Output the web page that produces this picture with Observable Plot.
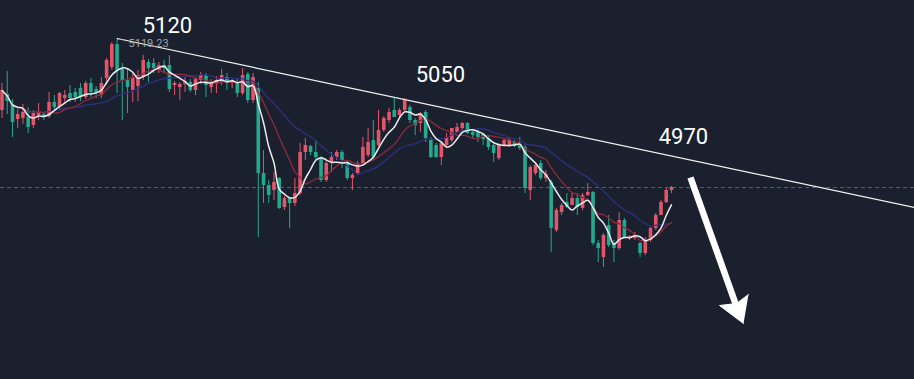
<!DOCTYPE html>
<html>
<head>
<meta charset="utf-8">
<script src="https://cdn.jsdelivr.net/npm/d3@7"></script>
<script src="https://cdn.jsdelivr.net/npm/@observablehq/plot@0.6"></script>
<style>
  html, body { margin: 0; padding: 0; background: #1b202e; overflow: hidden; }
  #chart svg { display: block; }
</style>
</head>
<body>
<div id="chart"></div>
<script>
// Candle values (price); index = candle number
const opens = [5049,5065,5055,5040,5041,5042,5034,5044,5045,5043,
  5057,5052,5061,5066,5067,5071,5062,5076,5070,5064,
  5081,5092,5115,5090,5079,5069,5073,5082,5097,5096,
  5089,5094,5094,5074,5072,5075,5077,5069,5079,5084,
  5072,5075,5077,5082,5076,5077,5066,5085,5059,5071,
  4986,4974,4969,4981,4952,4961,4956,4966,5007,5013,
  5007,5001,4979,4997,5002,5007,4997,4981,4986,4996,
  5004,5019,5014,5029,5039,5049,5044,5049,5052,5039,
  5036,5047,5019,5014,5002,5014,5019,5027,5031,5036,
  5027,5027,5025,5021,5014,5001,5014,5014,5017,5014,
  5012,4969,4986,4996,4981,4977,4929,4947,4957,4954,
  4961,4951,4964,4967,4916,4902,4934,4916,4911,4939,
  4921,4921,4916,4906,4919,4931,4944,4957,4969];
const highs = [5076,5088,5060,5050,5055,5052,5049,5056,5047,5067,
  5064,5067,5069,5074,5071,5076,5078,5081,5073,5082,
  5101,5117,5119.23,5096,5091,5086,5089,5104,5100,5101,
  5097,5099,5104,5078,5077,5082,5080,5082,5087,5086,
  5080,5083,5090,5086,5080,5080,5091,5087,5086,5077,
  5009,4979,4987,4982,4963,4962,4981,5016,5021,5014,
  5019,5003,4999,5007,5009,5009,4998,4986,4998,5022,
  5031,5039,5049,5043,5051,5061,5051,5061,5054,5041,
  5047,5049,5022,5016,5018,5026,5031,5036,5037,5037,
  5029,5029,5026,5024,5016,5016,5021,5021,5019,5022,
  5014,4994,4996,4999,4989,4979,4951,4956,4966,4966,
  4966,4966,4976,4968,4919,4926,4944,4919,4947,4941,
  4924,4927,4917,4922,4932,4946,4959,4971,4973];
const lows = [5041,5045,5022,5031,5035,5026,5031,5039,5039,5041,
  5047,5049,5056,5057,5057,5058,5060,5062,5061,5061,
  5077,5089,5066,5039,5046,5057,5058,5079,5077,5086,
  5086,5087,5067,5064,5059,5067,5067,5064,5075,5062,
  5066,5066,5074,5069,5071,5062,5064,5056,5056,4922,
  4956,4956,4959,4950,4949,4931,4953,4964,4999,5004,
  4999,4977,4977,4987,4999,4991,4979,4969,4984,4994,
  5002,4999,5012,5027,5036,5042,5042,5047,5036,5024,
  5027,5017,5001,5001,4994,5012,5017,5026,5029,5025,
  5021,5017,5014,5009,4997,4999,5012,5012,5012,5009,
  4966,4959,4984,4979,4977,4907,4927,4944,4951,4954,
  4944,4949,4963,4914,4897,4892,4912,4897,4909,4921,
  4919,4919,4902,4904,4917,4929,4944,4956,4966];
const closes = [5069,5058,5037,5045,5047,5032,5046,5047,5043,5057,
  5052,5066,5064,5061,5062,5062,5076,5067,5066,5076,
  5099,5115,5089,5079,5072,5081,5084,5099,5091,5091,
  5094,5091,5070,5076,5075,5078,5069,5080,5084,5074,
  5076,5079,5084,5076,5079,5066,5084,5059,5082,4986,
  4974,4964,4977,4951,4961,4956,4966,5007,5014,5007,
  5002,4979,4996,5002,5007,4999,4981,4984,4996,5012,
  5017,5002,5029,5041,5047,5042,5049,5059,5039,5034,
  5046,5021,5002,5002,5016,5021,5031,5032,5036,5026,
  5024,5022,5020,5012,5006,5014,5019,5019,5014,5011,
  4971,4992,4994,4981,4985,4931,4949,4954,4952,4961,
  4952,4964,4967,4916,4911,4924,4914,4911,4939,4922,
  4923,4924,4906,4919,4931,4944,4957,4969,4972];

// Annotations (candle index, price)
const trendIdx = [22, 174.47];
const trendPrice = [5121, 4952];
const labelTexts = ["5120", "5050", "4970"];
const labelIdx = [31.64, 83.84, 130.3];
const labelPrice = [5134, 5085, 5023];
const peakText = ["5119.23"];
const peakIdx = [24.2];
const peakPrice = [5116.5];
const leaderIdx = [22.1, 24.0];
const leaderPrice = 5120;
const arrowShaftIdx = [131.64, 140.44];
const arrowShaftPrice = [4982, 4853];
const arrowHeadIdx = [141.78, 137.19, 140.44, 142.73];
const arrowHeadPrice = [4836, 4854, 4856, 4865];

const candles = opens.map((o, i) => ({i, open: o, high: highs[i], low: lows[i], close: closes[i]}));
const ups = candles.filter(d => d.close >= d.open);
const downs = candles.filter(d => d.close < d.open);
const lastClose = closes[closes.length - 1];
const trend = trendIdx.map((x, k) => ({x, p: trendPrice[k]}));
const labels = labelTexts.map((t, k) => ({t, x: labelIdx[k], p: labelPrice[k]}));
const peak = peakText.map((t, k) => ({t, x: peakIdx[k], p: peakPrice[k]}));
const shaft = [{x1: arrowShaftIdx[0], y1: arrowShaftPrice[0], x2: arrowShaftIdx[1], y2: arrowShaftPrice[1]}];
const head = arrowHeadIdx.map((x, k) => ({x, p: arrowHeadPrice[k]}));

const RED = "#e2566a", GREEN = "#24a98f";

const chart = Plot.plot({
  width: 914,
  height: 379,
  margin: 0,
  x: {domain: [-0.287, 174.47], axis: null},
  y: {domain: [4780, 5159], axis: null},
  style: {background: "#1b202e", fontFamily: "Roboto, 'Noto Sans', sans-serif"},
  marks: [
    Plot.ruleY([lastClose], {stroke: "#a04a62", strokeOpacity: 0.85, strokeDasharray: "4,3", strokeWidth: 1}),
    Plot.ruleX(ups, {x: "i", y1: "low", y2: "high", stroke: RED, strokeWidth: 1}),
    Plot.ruleX(downs, {x: "i", y1: "low", y2: "high", stroke: GREEN, strokeWidth: 1}),
    Plot.ruleX(ups, {x: "i", y1: "open", y2: "close", stroke: RED, strokeWidth: 3.6}),
    Plot.ruleX(downs, {x: "i", y1: "open", y2: "close", stroke: GREEN, strokeWidth: 3.6}),
    Plot.lineY(candles, Plot.windowY({k: 20, anchor: "end"}, {x: "i", y: "close", stroke: "#2e3180", strokeWidth: 1.3, curve: "catmull-rom"})),
    Plot.lineY(candles, Plot.windowY({k: 10, anchor: "end"}, {x: "i", y: "close", stroke: "#8e2a3c", strokeWidth: 1.3, curve: "catmull-rom"})),
    Plot.lineY(candles, Plot.windowY({k: 5, anchor: "end"}, {x: "i", y: "close", stroke: "#ececec", strokeWidth: 1.5, curve: "catmull-rom"})),
    Plot.line(trend, {x: "x", y: "p", stroke: "#f2f2f2", strokeWidth: 1.2}),
    Plot.ruleY([leaderPrice], {x1: leaderIdx[0], x2: leaderIdx[1], stroke: "#a0a4ad", strokeDasharray: "1,1.5", strokeWidth: 1}),
    Plot.text(peak, {x: "x", y: "p", text: "t", fill: "#9ea3ad", fontSize: 11, textAnchor: "start"}),
    Plot.text(labels, {x: "x", y: "p", text: "t", fill: "#ffffff", fontSize: 22}),
    Plot.link(shaft, {x1: "x1", y1: "y1", x2: "x2", y2: "y2", stroke: "#ffffff", strokeWidth: 6.5}),
    Plot.line(head, {x: "x", y: "p", fill: "#ffffff", stroke: "#ffffff", strokeWidth: 1, strokeLinejoin: "miter"})
  ]
});
document.getElementById("chart").appendChild(chart);
</script>
</body>
</html>
